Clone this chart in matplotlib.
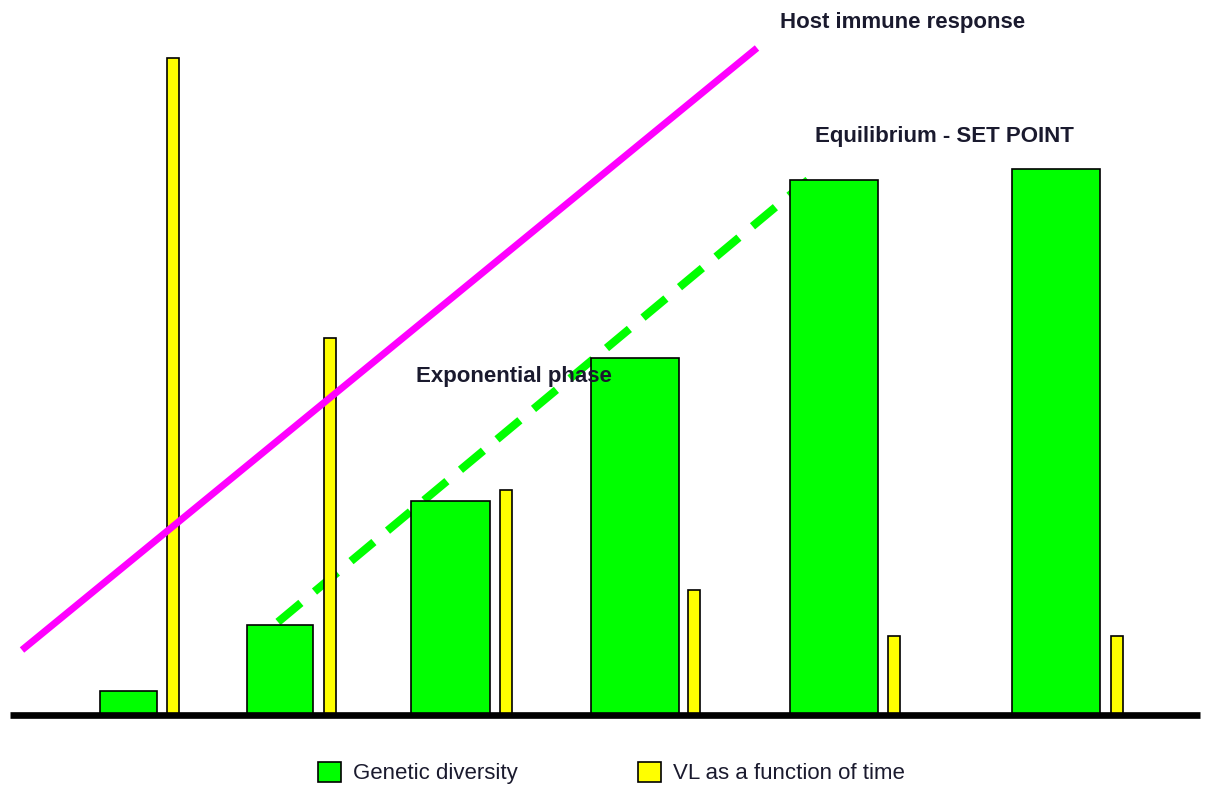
import matplotlib
matplotlib.use("Agg")
import matplotlib.pyplot as plt

plt.rcParams['font.family'] = ['Liberation Sans', 'DejaVu Sans']

# bar values (arbitrary units above the baseline)
diversity = [24, 90, 214, 357, 535, 546]
viral_load = [657, 377, 225, 125, 79, 79]

# trend lines (schematic)
immune_x = [22, 757]
immune_y = [136, 738]
expo_x = [278, 808]
expo_y = [164, 606]

# layout
baseline = 71
green_left = [100, 247, 411, 591, 790, 1012]
green_width = [57, 66, 79, 88, 88, 88]
yellow_left = [167, 324, 500, 688, 888, 1111]
yellow_width = 12
text_color = '#1a1a2e'

fig = plt.figure(figsize=(12.06, 7.86), dpi=100)
ax = fig.add_axes([0, 0, 1, 1])
ax.set_xlim(0, 1206)
ax.set_ylim(0, 786)
ax.axis('off')

# dashed exponential trend sits behind the bars
ax.plot(expo_x, expo_y, color='#00FF00', lw=5.8, linestyle=(0, (3.7, 2.2)),
        dash_capstyle='butt', zorder=1)

ax.bar(green_left, diversity, width=green_width, bottom=baseline, align='edge',
       color='#00FF00', edgecolor='black', linewidth=1.2, zorder=2,
       label='Genetic diversity')
ax.bar(yellow_left, viral_load, width=yellow_width, bottom=baseline, align='edge',
       color='#FFFF00', edgecolor='black', linewidth=1.2, zorder=2,
       label='VL as a function of time')

ax.plot(immune_x, immune_y, color='#FF00FF', lw=5, solid_capstyle='butt', zorder=3)

ax.hlines(baseline, 10, 1200, color='black', lw=4.8, zorder=4)

ax.text(780, 758, 'Host immune response', fontsize=16, fontweight='bold',
        color=text_color, va='baseline')
ax.text(815, 644, 'Equilibrium - SET POINT', fontsize=16, fontweight='bold',
        color=text_color, va='baseline')
ax.text(416, 404, 'Exponential phase', fontsize=16, fontweight='bold',
        color=text_color, va='baseline', zorder=5)

ax.legend(loc='center', bbox_to_anchor=(0.507, 13 / 786), ncol=2,
          frameon=False, fontsize=16, handlelength=1.04, handleheight=1.04,
          handletextpad=0.54, columnspacing=5.4, borderpad=0,
          labelcolor=text_color)

fig.savefig('out.png', dpi=100)
